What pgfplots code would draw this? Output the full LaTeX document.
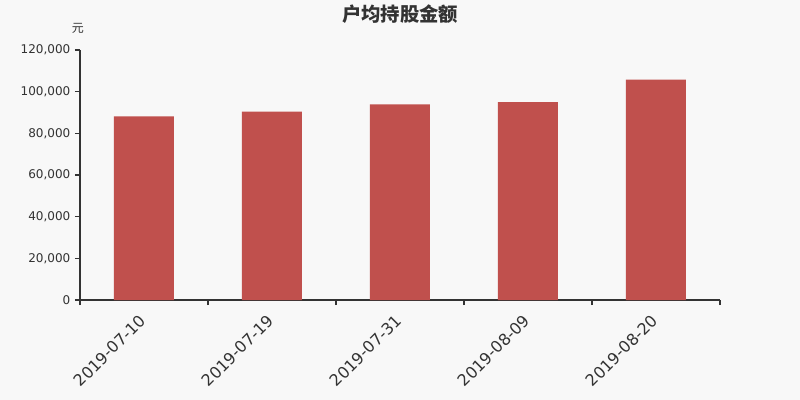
\documentclass[border=0pt]{standalone}
\usepackage{fontspec}
\setmainfont{DejaVu Sans}
\newfontfamily\cjk{Noto Sans CJK SC}
\usepackage{pgfplots}
\pgfplotsset{compat=1.18}
\definecolor{bg}{HTML}{F8F8F8}
\definecolor{barred}{HTML}{C0504D}
\definecolor{txt}{HTML}{333333}

\begin{document}
\begin{tikzpicture}[x=0.75pt,y=0.75pt]
% background, 800 x 400 px (plot box lower-left at px 80,300)
\fill[bg] (-80,-100) rectangle (720,300);
\begin{axis}[
    at={(0,0)}, anchor=south west,
    scale only axis,
    width=480pt, height=187.5pt,
    xmin=-0.5, xmax=4.5,
    ymin=0, ymax=120000,
    ytick={0,20000,...,120000},
    xtick={0,1,2,3,4},
    xticklabels={2019-07-10,2019-07-19,2019-07-31,2019-08-09,2019-08-20},
    minor xtick={-0.5,0.5,1.5,2.5,3.5,4.5},
    axis x line*=bottom, axis y line*=left,
    axis line style={txt, line width=0.8pt, -},
    major x tick style={draw=none},
    minor tick length=3.75pt,
    major tick length=3.75pt,
    tick align=outside,
    tick style={txt, line width=0.8pt},
    x tick label style={rotate=45, anchor=north east, font=\fontsize{12}{14}\selectfont, text=txt, xshift=-4pt, yshift=2pt},
    y tick label style={font=\fontsize{9}{11}\selectfont, text=txt},
    /pgf/number format/assume math mode=true,
    /pgf/number format/fixed,
    /pgf/number format/1000 sep={,},
    scaled y ticks=false,
    ybar, bar width=45pt,
    axis background/.style={fill=bg},
]
\addplot[fill=barred, draw=none] coordinates {
    (0,88100) (1,90400) (2,93900) (3,95000) (4,105800)
};
\end{axis}
\node[text=txt, font=\cjk\bfseries\fontsize{14.5}{16}\selectfont] at (320,286) {户均持股金额};
\node[text=txt, font=\cjk\fontsize{9}{11}\selectfont] at (-2,272) {元};
\end{tikzpicture}
\end{document}
